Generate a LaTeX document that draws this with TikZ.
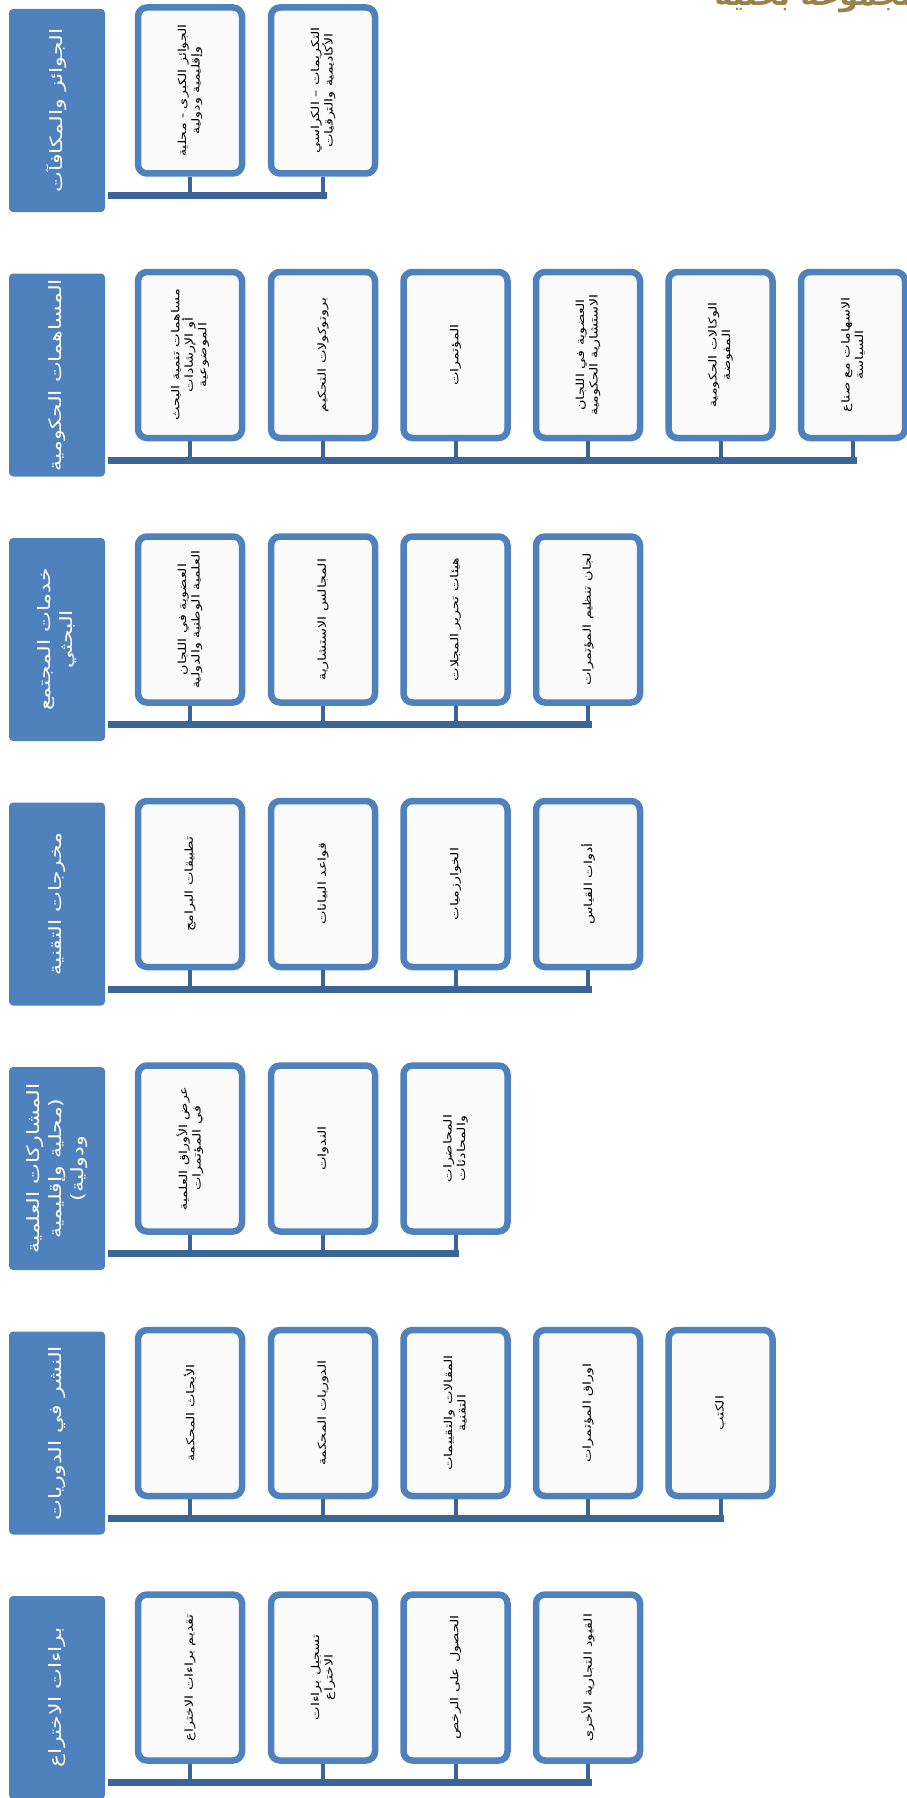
\documentclass[tikz,border=0pt]{standalone}
\usepackage{fontspec}
\newfontfamily\arabicfont[Script=Arabic]{DejaVu Sans}
\newfontfamily\arabicwide[Script=Arabic,FakeStretch=1.3]{DejaVu Sans}
\TeXXeTstate=1
\newcommand{\ar}[1]{\beginR #1\endR}
\definecolor{headblue}{HTML}{4F81BD}
\definecolor{barblue}{HTML}{3B6597}
\definecolor{titlegold}{HTML}{9A804A}
\tikzset{
  head/.style={rectangle,rounded corners=4pt,fill=headblue,text=white,rotate=90,
    minimum width=203pt,minimum height=96pt,inner sep=2pt,align=center,
    font=\arabicwide\fontsize{17}{22}\selectfont},
  item/.style={rectangle,rounded corners=9pt,draw=headblue,line width=6.5pt,
    fill=black!2,rotate=90,minimum width=166pt,minimum height=104pt,inner sep=3pt,
    align=center,font=\arabicwide\fontsize{11}{13.5}\selectfont},
  bar/.style={draw=barblue,line width=7pt,line cap=rect},
  link/.style={draw=barblue,line width=4pt}
}

\begin{document}
\begin{tikzpicture}[x=1pt,y=-1pt]
  \path[use as bounding box,fill=white] (0,0) rectangle (907,1798);
  \node[anchor=base east,text=titlegold,font=\arabicfont\bfseries\fontsize{30}{32}\selectfont] (title) at (922,6) {\ar{مجموعة بحثية}};

  \node[head] (h1) at (57,110.5) {\ar{الجوائز والمكافآت}};
  \node[item] (c11) at (190,90.5) {\ar{الجوائز الكبرى - محلية}\\\ar{وإقليمية ودولية}};
  \node[item] (c12) at (323,90.5) {\ar{التكريمات – الكراسي}\\\ar{الأكاديمية والترقيات}};
  \coordinate (b1) at (111.5,195.5);
  \draw[bar] (b1) -- (b1 -| c12.west);
  \draw[link] (c11.west) -- (c11.west |- b1);
  \draw[link] (c12.west) -- (c12.west |- b1);

  \node[head] (h2) at (57,375) {\ar{المساهمات الحكومية}};
  \node[item] (c21) at (190,355) {\ar{مساهمات تنمية البحث}\\\ar{أو الإرشادات}\\\ar{الموضوعية}};
  \node[item] (c22) at (323,355) {\ar{بروتوكولات التحكيم}};
  \node[item] (c23) at (455.5,355) {\ar{المؤتمرات}};
  \node[item] (c24) at (588,355) {\ar{العضوية في اللجان}\\\ar{الاستشارية الحكومية}};
  \node[item] (c25) at (720.5,355) {\ar{الوكالات الحكومية}\\\ar{المفوضة}};
  \node[item] (c26) at (853,355) {\ar{الاسهامات مع صناع}\\\ar{السياسة}};
  \coordinate (b2) at (111.5,460);
  \draw[bar] (b2) -- (b2 -| c26.west);
  \draw[link] (c21.west) -- (c21.west |- b2);
  \draw[link] (c22.west) -- (c22.west |- b2);
  \draw[link] (c23.west) -- (c23.west |- b2);
  \draw[link] (c24.west) -- (c24.west |- b2);
  \draw[link] (c25.west) -- (c25.west |- b2);
  \draw[link] (c26.west) -- (c26.west |- b2);

  \node[head] (h3) at (57,639.5) {\ar{خدمات المجتمع}\\\ar{البحثي}};
  \node[item] (c31) at (190,619.5) {\ar{العضوية في اللجان}\\\ar{العلمية الوطنية والدولية}};
  \node[item] (c32) at (323,619.5) {\ar{المجالس الاستشارية}};
  \node[item] (c33) at (455.5,619.5) {\ar{هيئات تحرير المجلات}};
  \node[item] (c34) at (588,619.5) {\ar{لجان تنظيم المؤتمرات}};
  \coordinate (b3) at (111.5,724.5);
  \draw[bar] (b3) -- (b3 -| c34.west);
  \draw[link] (c31.west) -- (c31.west |- b3);
  \draw[link] (c32.west) -- (c32.west |- b3);
  \draw[link] (c33.west) -- (c33.west |- b3);
  \draw[link] (c34.west) -- (c34.west |- b3);

  \node[head] (h4) at (57,904) {\ar{مخرجات التقنية}};
  \node[item] (c41) at (190,884) {\ar{تطبيقات البرامج}};
  \node[item] (c42) at (323,884) {\ar{قواعد البيانات}};
  \node[item] (c43) at (455.5,884) {\ar{الخوارزميات}};
  \node[item] (c44) at (588,884) {\ar{أدوات القياس}};
  \coordinate (b4) at (111.5,989);
  \draw[bar] (b4) -- (b4 -| c44.west);
  \draw[link] (c41.west) -- (c41.west |- b4);
  \draw[link] (c42.west) -- (c42.west |- b4);
  \draw[link] (c43.west) -- (c43.west |- b4);
  \draw[link] (c44.west) -- (c44.west |- b4);

  \node[head] (h5) at (57,1168.5) {\ar{المشاركات العلمية}\\\ar{(محلية وإقليمية}\\\ar{ودولية)}};
  \node[item] (c51) at (190,1148.5) {\ar{عرض الأوراق العلمية}\\\ar{في المؤتمرات}};
  \node[item] (c52) at (323,1148.5) {\ar{الندوات}};
  \node[item] (c53) at (455.5,1148.5) {\ar{المحاضرات}\\\ar{والمحادثات}};
  \coordinate (b5) at (111.5,1253.5);
  \draw[bar] (b5) -- (b5 -| c53.west);
  \draw[link] (c51.west) -- (c51.west |- b5);
  \draw[link] (c52.west) -- (c52.west |- b5);
  \draw[link] (c53.west) -- (c53.west |- b5);

  \node[head] (h6) at (57,1433) {\ar{النشر في الدوريات}};
  \node[item] (c61) at (190,1413) {\ar{الأبحاث المحكمة}};
  \node[item] (c62) at (323,1413) {\ar{الدوريات المحكمة}};
  \node[item] (c63) at (455.5,1413) {\ar{المقالات والتقييمات}\\\ar{التقنية}};
  \node[item] (c64) at (588,1413) {\ar{اوراق المؤتمرات}};
  \node[item] (c65) at (720.5,1413) {\ar{الكتب}};
  \coordinate (b6) at (111.5,1518);
  \draw[bar] (b6) -- (b6 -| c65.west);
  \draw[link] (c61.west) -- (c61.west |- b6);
  \draw[link] (c62.west) -- (c62.west |- b6);
  \draw[link] (c63.west) -- (c63.west |- b6);
  \draw[link] (c64.west) -- (c64.west |- b6);
  \draw[link] (c65.west) -- (c65.west |- b6);

  \node[head] (h7) at (57,1697.5) {\ar{براءات الاختراع}};
  \node[item] (c71) at (190,1677.5) {\ar{تقديم براءات الاختراع}};
  \node[item] (c72) at (323,1677.5) {\ar{تسجيل براءات}\\\ar{الاختراع}};
  \node[item] (c73) at (455.5,1677.5) {\ar{الحصول على الرخص}};
  \node[item] (c74) at (588,1677.5) {\ar{القيود التجارية الأخرى}};
  \coordinate (b7) at (111.5,1782.5);
  \draw[bar] (b7) -- (b7 -| c74.west);
  \draw[link] (c71.west) -- (c71.west |- b7);
  \draw[link] (c72.west) -- (c72.west |- b7);
  \draw[link] (c73.west) -- (c73.west |- b7);
  \draw[link] (c74.west) -- (c74.west |- b7);
\end{tikzpicture}
\end{document}
